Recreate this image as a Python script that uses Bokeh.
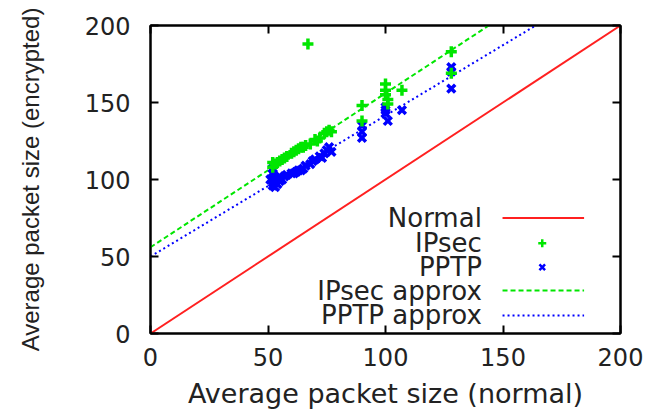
from bokeh.plotting import figure
from bokeh.models import Range1d, LinearAxis, Label, FixedTicker
from bokeh.embed import file_html
from bokeh.resources import INLINE

# ---- data ----
ipsec_x = [52, 52, 53, 54, 55, 56, 57, 58, 60, 61, 62, 63, 64, 65, 66, 67, 68, 70, 71, 72, 74, 75, 76, 77,
           90, 90, 100, 100, 100, 101, 101, 107, 128, 128]
ipsec_y = [108, 111, 110, 111, 112, 113, 114, 115, 117, 118, 119, 120, 121, 121, 122, 188, 123, 126, 125, 127, 130, 131, 132, 131,
           148, 138, 162, 158, 155, 152, 149, 158, 183, 169]
pptp_x = [51, 52, 52, 52, 52, 52, 53, 53, 54, 55, 55, 56, 57, 58, 60, 61, 62, 63, 64, 65, 66, 68, 69, 70, 72, 73, 74, 75, 76, 77,
          90, 90, 90, 100, 100, 100, 101, 107, 128, 128, 128]
pptp_y = [100, 96, 98, 101, 104, 107, 95, 99, 97, 99, 102, 100, 102, 103, 104, 104, 105, 106, 106, 107, 109, 110, 112, 113, 115, 114, 117, 119, 121, 118,
          135, 131, 127, 147, 145, 143, 138, 145, 173, 170, 159]
normal_x = [0, 200]
normal_y = [0, 200]
ipsec_fit = (1.0, 56.0)     # slope, intercept
pptp_fit = (0.915, 50.0)
fit_x = [0, 200]
ticks = [0, 50, 100, 150, 200]
legend_labels = ["Normal", "IPsec", "PPTP", "IPsec approx", "PPTP approx"]

GREEN = "#00e600"
BLUE = "#0000ff"
RED = "#ff2020"
TXT = "#222222"

p = figure(width=651, height=412, output_backend="svg", toolbar_location=None,
           x_range=Range1d(0, 200), y_range=Range1d(0, 200),
           min_border_left=150, min_border_right=31, min_border_top=25, min_border_bottom=79)
p.grid.visible = False
p.outline_line_color = "black"
p.outline_line_width = 2
p.background_fill_color = "white"
p.border_fill_color = "white"

def style_axis(ax, labels=True):
    ax.ticker = FixedTicker(ticks=ticks)
    ax.axis_line_color = "black"
    ax.axis_line_width = 2
    ax.major_tick_in = 8
    ax.major_tick_out = 0
    ax.major_tick_line_width = 2
    ax.minor_tick_line_color = None
    if labels:
        ax.major_label_text_font = "DejaVu Sans"
        ax.major_label_text_font_size = "24px"
        ax.major_label_text_color = TXT
    else:
        ax.major_label_text_font_size = "0px"
        ax.major_label_text_color = None

xa = p.xaxis[0]
ya = p.yaxis[0]
style_axis(xa)
style_axis(ya)
xa.major_label_standoff = 14
ya.major_label_standoff = 20
xa.axis_label = "Average packet size (normal)"
xa.axis_label_text_font = "DejaVu Sans"
xa.axis_label_text_font_size = "27px"
xa.axis_label_text_font_style = "normal"
xa.axis_label_text_color = TXT
xa.axis_label_standoff = 9
ya.axis_label = "Average packet size (encrypted)"
ya.axis_label_text_font = "Liberation Sans"
ya.axis_label_text_font_size = "24px"
ya.axis_label_text_font_style = "normal"
ya.axis_label_text_color = TXT
ya.axis_label_standoff = 38

top = LinearAxis()
right = LinearAxis()
style_axis(top, labels=False)
style_axis(right, labels=False)
p.add_layout(top, "above")
p.add_layout(right, "right")

# data
p.line(normal_x, normal_y, color=RED, line_width=2)
p.line(fit_x, [ipsec_fit[0] * v + ipsec_fit[1] for v in fit_x], color=GREEN, line_width=2, line_dash="5 3")
p.line(fit_x, [pptp_fit[0] * v + pptp_fit[1] for v in fit_x], color=BLUE, line_width=2, line_dash="2 3")
p.scatter(pptp_x, pptp_y, marker="x", size=11, line_color=BLUE, line_width=3.5)
p.scatter(ipsec_x, ipsec_y, marker="cross", size=11, line_color=GREEN, line_width=3.5)

# legend (layout constants, data units)
leg_text_x = 141
leg_rows = [75, 58.6, 43, 27.9, 11.7]
leg_line = [149.8, 184.5]
leg_mark = 166.7
for lab, yy in zip(legend_labels, leg_rows):
    p.add_layout(Label(x=leg_text_x, y=yy, text=lab, text_align="right", text_baseline="middle",
                       text_font="DejaVu Sans", text_font_size="26px", text_color=TXT))
p.line(leg_line, [leg_rows[0]] * 2, color=RED, line_width=2)
p.scatter([leg_mark], [leg_rows[1]], marker="cross", size=8, line_color=GREEN, line_width=2.5)
p.scatter([leg_mark], [leg_rows[2]], marker="x", size=8, line_color=BLUE, line_width=2.5)
p.line(leg_line, [leg_rows[3]] * 2, color=GREEN, line_width=2, line_dash="5 3")
p.line(leg_line, [leg_rows[4]] * 2, color=BLUE, line_width=2, line_dash="2 3")

open("out.html", "w").write(file_html(p, INLINE))
